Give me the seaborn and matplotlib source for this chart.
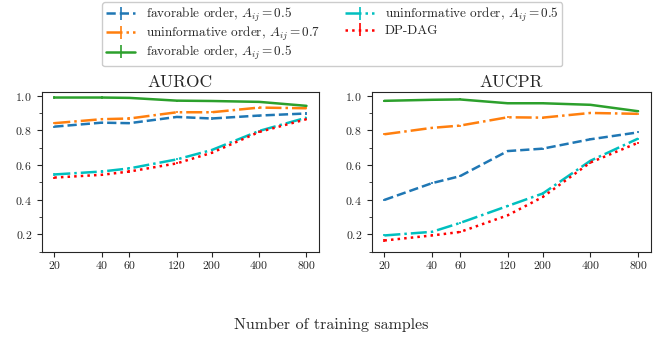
import numpy as np
import seaborn as sns
from matplotlib import pyplot as plt
from matplotlib.ticker import FixedLocator, NullLocator, MultipleLocator

sns.set_style("ticks")
plt.rcParams['font.family'] = ['cmr10', 'DejaVu Serif']
plt.rcParams['mathtext.fontset'] = 'cm'
plt.rcParams['axes.formatter.use_mathtext'] = True

# 数据
samples = [20, 40, 60, 120, 200, 400, 800]
labels = [r'favorable order, $A_{ij} = 0.5$',
          r'uninformative order, $A_{ij} = 0.7$',
          r'favorable order, $A_{ij} = 0.5$',
          r'uninformative order, $A_{ij} = 0.5$',
          'DP-DAG']

auroc_fav05 = [0.822, 0.845, 0.842, 0.878, 0.869, 0.886, 0.898]
auroc_uninf07 = [0.842, 0.865, 0.869, 0.905, 0.905, 0.932, 0.928]
auroc_fav05_b = [0.990, 0.990, 0.988, 0.972, 0.970, 0.965, 0.942]
auroc_uninf05 = [0.546, 0.563, 0.581, 0.633, 0.687, 0.797, 0.874]
auroc_dpdag = [0.528, 0.544, 0.563, 0.610, 0.671, 0.791, 0.865]

aucpr_fav05 = [0.399, 0.496, 0.536, 0.681, 0.695, 0.749, 0.789]
aucpr_uninf07 = [0.778, 0.815, 0.828, 0.876, 0.874, 0.901, 0.896]
aucpr_fav05_b = [0.971, 0.977, 0.979, 0.957, 0.957, 0.948, 0.911]
aucpr_uninf05 = [0.194, 0.215, 0.266, 0.364, 0.436, 0.625, 0.753]
aucpr_dpdag = [0.165, 0.194, 0.214, 0.310, 0.416, 0.615, 0.729]

err = [0.006, 0.006, 0.006, 0.006, 0.006, 0.006, 0.006]  # 误差很小

pal = sns.color_palette("tab10")
colors = [pal[0], pal[1], pal[2], 'c', 'r']
styles = ['--', '-.', '-', '-.', ':']

fig = plt.figure(figsize=(6.62, 3.37), dpi=100)
ax1 = fig.add_axes([0.063, 0.253, 0.419, 0.473])
ax2 = fig.add_axes([0.5615, 0.253, 0.4215, 0.473])

panels = [(ax1, 'AUROC', [auroc_fav05, auroc_uninf07, auroc_fav05_b, auroc_uninf05, auroc_dpdag]),
          (ax2, 'AUCPR', [aucpr_fav05, aucpr_uninf07, aucpr_fav05_b, aucpr_uninf05, aucpr_dpdag])]

handles = []
for ax, title, series in panels:
    handles = []
    for ys, c, ls, lab in zip(series, colors, styles, labels):
        h = ax.errorbar(samples, ys, yerr=err, color=c, linestyle=ls, lw=1.8,
                        elinewidth=1.2, capsize=0, label=lab)
        handles.append(h)
    ax.set_xscale('log')
    ax.xaxis.set_major_locator(FixedLocator(samples))
    ax.xaxis.set_minor_locator(NullLocator())
    ax.set_xticklabels([str(s) for s in samples])
    ax.set_ylim(0.1, 1.02)
    ax.yaxis.set_major_locator(MultipleLocator(0.2))
    ax.yaxis.set_minor_locator(MultipleLocator(0.1))
    ax.tick_params(labelsize=8.5)
    ax.set_title(title, fontsize=12.5, pad=4)

fig.legend(handles, labels, loc='upper center', bbox_to_anchor=(0.502, 1.0),
           ncol=2, fontsize=9.5, frameon=True, framealpha=1, columnspacing=1.9,
           labelspacing=0.08, borderpad=0.3, handlelength=2.2, handletextpad=0.8,
           borderaxespad=0.15)
fig.text(0.5, 0.036, 'Number of training samples', ha='center', va='center', fontsize=11.5)

plt.savefig('out.png', dpi=100)
